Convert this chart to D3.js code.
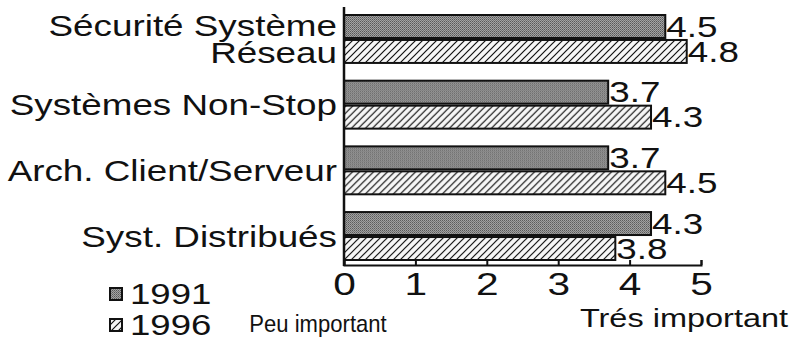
<!DOCTYPE html>
<html><head><meta charset="utf-8">
<script src="https://cdn.jsdelivr.net/npm/d3@7"></script>
<style>
body{margin:0;background:#fff}
svg{display:block}
text{font-family:"Liberation Sans",Arial,Helvetica,sans-serif;fill:#111}
</style>
</head><body>
<svg id="c" width="794" height="341"></svg>
<script>
const categories = ["Sécurité Système\nRéseau", "Systèmes Non-Stop", "Arch. Client/Serveur", "Syst. Distribués"];
const seriesNames = ["1991", "1996"];
const values1991 = [4.5, 3.7, 3.7, 4.3];
const values1996 = [4.8, 4.3, 4.5, 3.8];
const xTicks = [0, 1, 2, 3, 4, 5];
const axisNotes = ["Peu important", "Trés important"];

const SX = 1.27;
const svg = d3.select("#c");
const defs = svg.append("defs");

// stippled gray for 1991
const p1 = defs.append("pattern").attr("id","pat1991").attr("patternUnits","userSpaceOnUse")
  .attr("width",2).attr("height",2);
p1.append("rect").attr("width",2).attr("height",2).attr("fill","#a4a4a4");
p1.append("rect").attr("width",1).attr("height",1).attr("fill","#585858");
p1.append("rect").attr("x",1).attr("y",1).attr("width",1).attr("height",1).attr("fill","#747474");

// diagonal hatch for 1996
const p2 = defs.append("pattern").attr("id","pat1996").attr("patternUnits","userSpaceOnUse")
  .attr("width",7).attr("height",7);
p2.append("rect").attr("width",7).attr("height",7).attr("fill","#f6f6f6");
p2.append("path").attr("d","M-1,1 L1,-1 M0,7 L7,0 M6,8 L8,6").attr("stroke","#111").attr("stroke-width",1.2);

const fills = {"1991":"url(#pat1991)","1996":"url(#pat1996)"};

const x = d3.scaleLinear().domain([0,5]).range([344,701]);
const y = d3.scaleBand().domain(categories).range([15,260]).paddingInner(0.27).paddingOuter(0);
const ySub = d3.scaleBand().domain(seriesNames).range([0,y.bandwidth()]).paddingInner(0.08);

const rows = categories.map((c,i)=>({cat:c, vals:[{s:"1991",v:values1991[i]},{s:"1996",v:values1996[i]}]}));

// bars
const gRow = svg.append("g").selectAll("g").data(rows).join("g")
  .attr("transform", d=>`translate(0,${y(d.cat)})`);
gRow.selectAll("rect").data(d=>d.vals).join("rect")
  .attr("x", x(0)).attr("y", d=>ySub(d.s))
  .attr("width", d=>x(d.v)-x(0)).attr("height", ySub.bandwidth())
  .attr("fill", d=>fills[d.s]).attr("stroke","#111").attr("stroke-width",2);

// value labels
gRow.selectAll("g.val").data(d=>d.vals).join("g").attr("class","val")
  .attr("transform", d=>`translate(${x(d.v)+1},${ySub(d.s)+ySub.bandwidth()/2})`)
  .append("text").attr("transform",`scale(${SX},1)`)
  .attr("font-size",29).attr("dominant-baseline","central").attr("text-anchor","start")
  .text(d=>d.v.toFixed(1));

// category labels
const catFs = 29;
svg.append("g").selectAll("g").data(categories).join("g")
  .attr("transform", d=>`translate(337,${y(d)+y.bandwidth()/2})`)
  .each(function(d){
    const lines = d.split("\n");
    const t = d3.select(this).append("text").attr("transform",`scale(${SX},1)`)
      .attr("font-size",catFs).attr("text-anchor","end").attr("dominant-baseline","central");
    lines.forEach((ln,k)=>{
      t.append("tspan").attr("x",0).attr("y",(k-(lines.length-1)/2)*27).text(ln);
    });
  });

// axes
const axisY = 265;
const xAxis = d3.axisBottom(x).tickValues(xTicks).tickFormat(d3.format("d"))
  .tickSizeInner(-5).tickSizeOuter(-5).tickPadding(0);
const gx = svg.append("g").attr("transform",`translate(0,${axisY})`).call(xAxis);
gx.select(".domain").attr("stroke","#111").attr("stroke-width",2);
gx.selectAll(".tick line").attr("stroke","#111").attr("stroke-width",2);
gx.selectAll(".tick text").attr("font-size",32).attr("font-family",null)
  .attr("y",19).attr("dy",null).attr("dominant-baseline","central")
  .attr("transform",`scale(${SX},1)`).attr("fill","#111");

svg.append("line").attr("x1",x(0)).attr("x2",x(0))
  .attr("y1",y.range()[0]-8).attr("y2",axisY+1)
  .attr("stroke","#111").attr("stroke-width",2.5);

// axis notes
const notes = [
  {t:axisNotes[0], cx:318, cy:324, fs:24, sx:0.92},
  {t:axisNotes[1], cx:684, cy:318, fs:25, sx:1.3}
];
svg.append("g").selectAll("g").data(notes).join("g")
  .attr("transform", d=>`translate(${d.cx},${d.cy})`)
  .append("text").attr("transform", d=>`scale(${d.sx},1)`)
  .attr("font-size", d=>d.fs).attr("text-anchor","middle").attr("dominant-baseline","central")
  .text(d=>d.t);

// legend
const leg = svg.append("g").selectAll("g").data(seriesNames).join("g")
  .attr("transform",(d,i)=>`translate(110,${294+i*31})`);
leg.append("rect").attr("x",0).attr("y",-6).attr("width",12).attr("height",12)
  .attr("fill", d=>fills[d]).attr("stroke","#111").attr("stroke-width",2);
leg.append("g").attr("transform","translate(20,0)").append("text")
  .attr("transform","scale(1.22,1)").attr("font-size",30).attr("dominant-baseline","central")
  .text(d=>d);
</script>
</body></html>
